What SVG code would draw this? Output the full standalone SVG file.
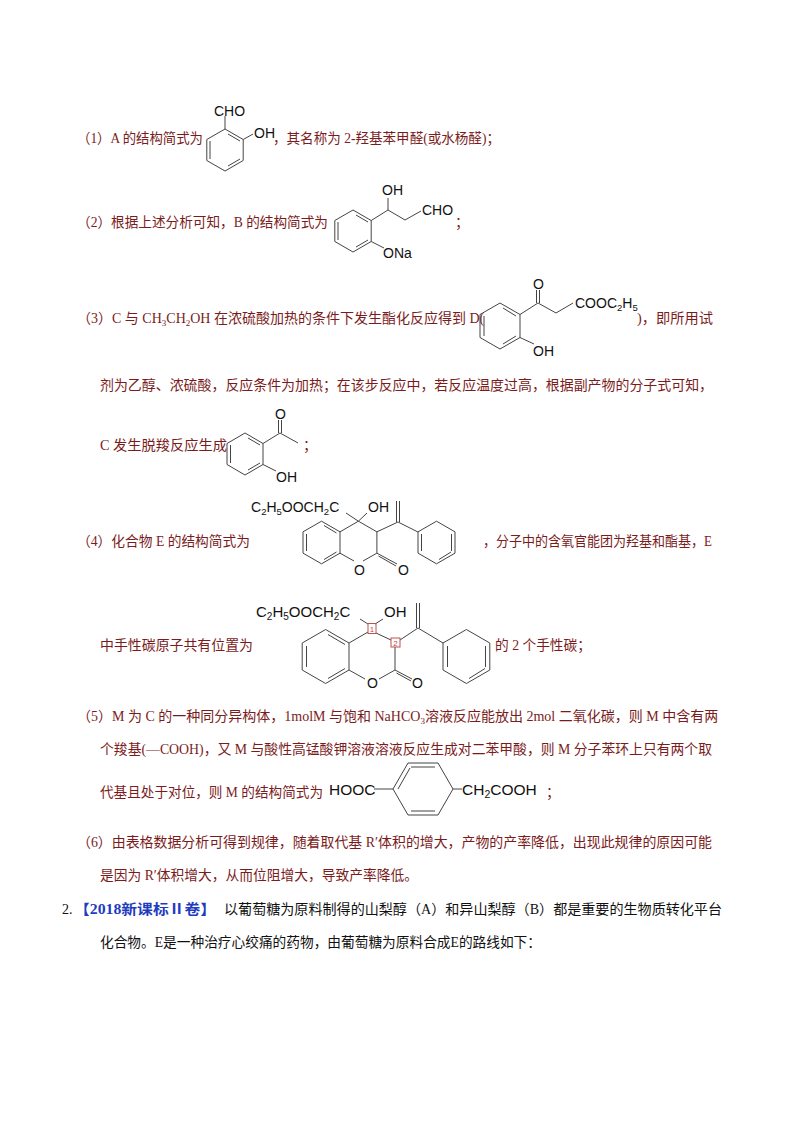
<svg xmlns="http://www.w3.org/2000/svg" width="794" height="1123" viewBox="0 0 794 1123">
<style>
.t{font-family:"Liberation Serif","Noto Sans CJK SC",serif;font-size:14px;fill:#7b1c1c}
.k{font-family:"Liberation Serif","Noto Sans CJK SC",serif;font-size:14px;fill:#111}
.b{font-family:"Liberation Serif","Noto Sans CJK SC",serif;font-size:14px;fill:#1f3cc0;font-weight:bold}
.c{font-family:"Liberation Sans",Arial,sans-serif;font-size:14px;fill:#111}
.s{font-size:9.5px}
.bd{stroke:#444;stroke-width:1;fill:none}
.bx{fill:none;stroke:#c0504d;stroke-width:1}
.n{font-family:"Liberation Sans",Arial,sans-serif;font-size:8px;fill:#c0504d}
</style>
<rect width="794" height="1123" fill="#fff"/>

<!-- (1) -->
<text class="t" x="77" y="143" textLength="126" lengthAdjust="spacingAndGlyphs">（1）A 的结构简式为</text>
<g id="A" class="bd">
<polygon points="225,129 243.2,139.5 243.2,160.5 225,171 206.8,160.5 206.8,139.5"/>
<line x1="228" y1="134" x2="240" y2="141"/><line x1="240" y1="159" x2="228" y2="166"/><line x1="210" y1="141" x2="210" y2="159"/>
<line x1="225" y1="129" x2="225" y2="116"/><line x1="243.2" y1="139.5" x2="253" y2="134"/>
</g>
<text class="c" x="214" y="116">CHO</text>
<text class="c" x="254" y="138">OH</text>
<text class="t" x="273" y="143" textLength="227" lengthAdjust="spacingAndGlyphs">，其名称为 2-羟基苯甲醛(或水杨醛)；</text>

<!-- (2) -->
<text class="t" x="77" y="227" textLength="251" lengthAdjust="spacingAndGlyphs">（2）根据上述分析可知，B 的结构简式为</text>
<g id="B" class="bd">
<polygon points="353,210 371.2,220.5 371.2,241.5 353,252 334.8,241.5 334.8,220.5"/>
<line x1="356" y1="215" x2="368" y2="222"/><line x1="368" y1="240" x2="356" y2="247"/><line x1="338" y1="222" x2="338" y2="240"/>
<polyline points="371.2,220.5 388,210 405,220 421,211"/>
<line x1="388" y1="210" x2="388" y2="198"/>
<line x1="371.2" y1="241.5" x2="384" y2="248"/>
</g>
<text class="c" x="382" y="195">OH</text>
<text class="c" x="422" y="215">CHO</text>
<text class="c" x="383" y="258">ONa</text>
<text class="t" x="455" y="227">；</text>

<!-- (3) -->
<text class="t" x="77" y="323">（3）C 与 CH<tspan font-size="9" dy="3">3</tspan><tspan dy="-3">CH</tspan><tspan font-size="9" dy="3">2</tspan><tspan dy="-3">OH 在浓硫酸加热的条件下发生酯化反应得到 D(</tspan></text>
<g id="D" class="bd">
<polygon points="500,303 520,314.5 520,337.5 500,349 480,337.5 480,314.5"/>
<line x1="503" y1="308" x2="516" y2="316"/><line x1="516" y1="336" x2="503" y2="344"/><line x1="484" y1="316" x2="484" y2="336"/>
<polyline points="520,314.5 538,303 556,313 573,303"/>
<line x1="536.5" y1="303" x2="536.5" y2="290"/><line x1="539.5" y1="303" x2="539.5" y2="290"/>
<line x1="520" y1="337.5" x2="534" y2="344"/>
</g>
<text class="c" x="533" y="289">O</text>
<text class="c" x="575" y="308">COOC<tspan class="s" dy="3">2</tspan><tspan dy="-3">H</tspan><tspan class="s" dy="3">5</tspan></text>
<text class="c" x="533" y="356">OH</text>
<text class="t" x="637" y="323" textLength="76" lengthAdjust="spacingAndGlyphs">)，即所用试</text>
<text class="t" x="100" y="390" textLength="613" lengthAdjust="spacingAndGlyphs">剂为乙醇、浓硫酸，反应条件为加热；在该步反应中，若反应温度过高，根据副产物的分子式可知，</text>
<text class="t" x="100" y="450" textLength="127" lengthAdjust="spacingAndGlyphs">C 发生脱羧反应生成</text>
<g id="Cprod" class="bd">
<polygon points="245,433 263,443.5 263,464.5 245,475 227,464.5 227,443.5"/>
<line x1="248" y1="438" x2="260" y2="445"/><line x1="260" y1="463" x2="248" y2="470"/><line x1="230.5" y1="445" x2="230.5" y2="463"/>
<polyline points="263,443.5 280,433 298,443"/>
<line x1="278.5" y1="433" x2="278.5" y2="420"/><line x1="281.5" y1="433" x2="281.5" y2="420"/>
<line x1="263" y1="464.5" x2="276" y2="471"/>
</g>
<text class="c" x="275" y="419">O</text>
<text class="c" x="276" y="482">OH</text>
<text class="t" x="303" y="450">；</text>

<!-- (4) -->
<text class="t" x="77" y="546" textLength="173" lengthAdjust="spacingAndGlyphs">（4）化合物 E 的结构简式为</text>
<g id="E1" class="bd">
<polygon points="321.5,521.2 340,531.85 340,553.15 321.5,563.8 303,553.15 303,531.85"/>
<line x1="306.5" y1="534" x2="306.5" y2="551"/><line x1="324" y1="525.5" x2="336.5" y2="533"/><line x1="324" y1="559.5" x2="336.5" y2="552"/>
<polyline points="340,531.85 358.4,521.2 376.9,531.85 376.9,553.15 363,561"/>
<polyline points="340,553.15 354,561"/>
<line x1="358.4" y1="521.2" x2="346" y2="513"/><line x1="358.4" y1="521.2" x2="367" y2="513"/>
<line x1="376.9" y1="553.15" x2="397" y2="564"/><line x1="378.5" y1="556" x2="396" y2="566"/>
<polyline points="376.9,531.85 398,522 418,532"/>
<line x1="396.5" y1="522" x2="396.5" y2="501"/><line x1="399.5" y1="522" x2="399.5" y2="501"/>
<polygon points="436.5,521.2 455,531.85 455,553.15 436.5,563.8 418,553.15 418,531.85"/>
<line x1="451.5" y1="534" x2="451.5" y2="551"/><line x1="421.5" y1="534" x2="421.5" y2="551"/><line x1="439" y1="559.5" x2="451" y2="552"/>
</g>
<text class="c" x="251" y="512">C<tspan class="s" dy="3">2</tspan><tspan dy="-3">H</tspan><tspan class="s" dy="3">5</tspan><tspan dy="-3">OOCH</tspan><tspan class="s" dy="3">2</tspan><tspan dy="-3">C</tspan></text>
<text class="c" x="368" y="512">OH</text>
<text class="c" x="354" y="575">O</text>
<text class="c" x="398" y="575">O</text>
<text class="t" x="483" y="546" textLength="229" lengthAdjust="spacingAndGlyphs">，分子中的含氧官能团为羟基和酯基，E</text>

<text class="t" x="100" y="650" textLength="153" lengthAdjust="spacingAndGlyphs">中手性碳原子共有位置为</text>
<g id="E2" class="bd">
<polygon points="325.6,629.5 349,643 349,670 325.6,683.5 302.2,670 302.2,643"/>
<line x1="306.5" y1="646" x2="306.5" y2="667"/><line x1="328" y1="634.5" x2="345" y2="644.5"/><line x1="328" y1="678.5" x2="345" y2="668.5"/>
<polyline points="349,643 368,632"/><polyline points="376,633 391,640"/>
<polyline points="395,647 395,670 379,679"/>
<polyline points="349,670 365,679"/>
<line x1="368" y1="624" x2="360" y2="619"/><line x1="375" y1="624" x2="383" y2="619"/>
<line x1="395" y1="670" x2="412" y2="679"/><line x1="396.5" y1="673" x2="411" y2="681"/>
<polyline points="400,640 418,628 443,643"/>
<line x1="416.5" y1="628" x2="416.5" y2="603"/><line x1="419.5" y1="628" x2="419.5" y2="603"/>
<polygon points="466.4,629.5 489.8,643 489.8,670 466.4,683.5 443,670 443,643"/>
<line x1="485.5" y1="646" x2="485.5" y2="667"/><line x1="447.5" y1="646" x2="447.5" y2="667"/><line x1="469" y1="678.5" x2="485" y2="668.5"/>
</g>
<rect class="bx" x="368" y="623.5" width="8" height="10"/>
<text class="n" x="369.8" y="631.5">1</text>
<rect class="bx" x="391" y="638" width="9" height="9"/>
<text class="n" x="393.3" y="645.5">2</text>
<text class="c" x="256" y="617" style="font-size:15px">C<tspan style="font-size:10px" dy="3">2</tspan><tspan dy="-3">H</tspan><tspan style="font-size:10px" dy="3">5</tspan><tspan dy="-3">OOCH</tspan><tspan style="font-size:10px" dy="3">2</tspan><tspan dy="-3">C</tspan></text>
<text class="c" x="384" y="617" style="font-size:15px">OH</text>
<text class="c" x="367" y="688">O</text>
<text class="c" x="412" y="688">O</text>
<text class="t" x="495" y="650" textLength="96" lengthAdjust="spacingAndGlyphs">的 2 个手性碳；</text>

<!-- (5) -->
<text class="t" x="77" y="721">（5）M 为 C 的一种同分异构体，1molM 与饱和 NaHCO<tspan font-size="9" dy="3">3</tspan><tspan dy="-3">溶液反应能放出 2mol 二氧化碳，则 M 中含有两</tspan></text>
<text class="t" x="100" y="754" textLength="612" lengthAdjust="spacingAndGlyphs">个羧基(—COOH)，又 M 与酸性高锰酸钾溶液溶液反应生成对二苯甲酸，则 M 分子苯环上只有两个取</text>
<text class="t" x="100" y="797" textLength="223" lengthAdjust="spacingAndGlyphs">代基且处于对位，则 M 的结构简式为</text>
<g id="M" class="bd">
<polygon points="393,789 408,763 438,763 453,789 438,815 408,815"/>
<line x1="411" y1="767" x2="435" y2="767"/><line x1="411" y1="811" x2="435" y2="811"/><line x1="398" y1="789" x2="410" y2="768"/>
<line x1="374" y1="789" x2="393" y2="789"/><line x1="453" y1="789" x2="462" y2="789"/>
</g>
<text class="c" x="329" y="795" style="font-size:15.5px">HOOC</text>
<text class="c" x="462" y="795" style="font-size:15.5px">CH<tspan style="font-size:10.5px" dy="3">2</tspan><tspan dy="-3">COOH</tspan></text>
<text class="t" x="546" y="797">；</text>

<!-- (6) -->
<text class="t" x="77" y="847" textLength="635" lengthAdjust="spacingAndGlyphs">（6）由表格数据分析可得到规律，随着取代基 R′体积的增大，产物的产率降低，出现此规律的原因可能</text>
<text class="t" x="100" y="880" textLength="318" lengthAdjust="spacingAndGlyphs">是因为 R′体积增大，从而位阻增大，导致产率降低。</text>

<!-- 2. -->
<text class="k" x="62" y="914">2.</text>
<text class="b" x="74" y="914" textLength="142" lengthAdjust="spacingAndGlyphs">【2018新课标Ⅱ卷】</text>
<text class="k" x="224" y="914" textLength="498" lengthAdjust="spacingAndGlyphs">以葡萄糖为原料制得的山梨醇（A）和异山梨醇（B）都是重要的生物质转化平台</text>
<text class="k" x="100" y="947" textLength="441" lengthAdjust="spacingAndGlyphs">化合物。E是一种治疗心绞痛的药物，由葡萄糖为原料合成E的路线如下：</text>
</svg>
